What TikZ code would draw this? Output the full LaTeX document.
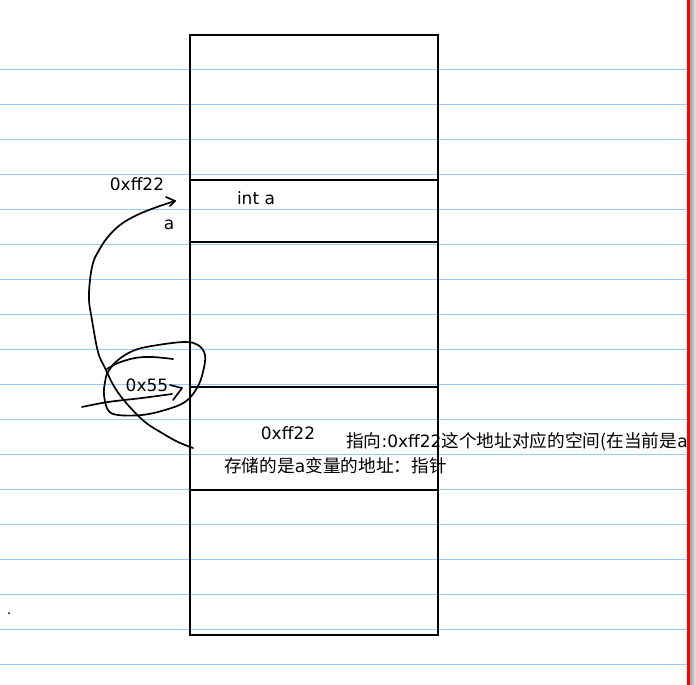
\documentclass[tikz,border=0pt]{standalone}
\usepackage{fontspec}
\setmainfont{DejaVu Sans}
\newfontfamily\cjk{Noto Sans CJK SC}[Scale=1.04]
\definecolor{ruleblue}{RGB}{155,202,248}
\begin{document}
\begin{tikzpicture}[x=1pt,y=-1pt,
  box/.style={draw=black,line width=1.6pt,inner sep=0pt,minimum width=248pt},
  lbl/.style={inner sep=0pt,font=\fontsize{17pt}{20pt}\selectfont},
  note/.style={lbl,anchor=west},
  hand/.style={line width=1.7pt,line cap=round,line join=round},
  paperrule/.style={draw=ruleblue,line width=1pt}]
\useasboundingbox (0,0) rectangle (696,685);
\fill[white] (0,0) rectangle (696,685);
% paper rules
\foreach \k in {0,...,17} \draw[paperrule] (0,69.5+35*\k) -- (687,69.5+35*\k);
% memory column
\node[box,minimum height=600pt] (mem) at (314,335) {};
\node[box,minimum height=62pt] (cella) at (314,211) {};
\node[box,minimum height=103pt] (cellp) at (314,438.5) {};
% labels
\node[lbl] (addrA) at (137,184) {0xff22};
\node[lbl] (inta) at (256,198) {int a};
\node[lbl] (namea) at (169,225) {a};
\node[lbl] (addrP) at (147,385) {0x55};
\node[lbl] (valP) at (288,433) {0xff22};
\node[note] (note1) at (346,442) {{\cjk 指向}:0xff22{\cjk 这个地址对应的空间(在当前是}a};
\node[note] (note2) at (224,466) {{\cjk 存储的是}a{\cjk 变量的地址：指针}};
% hand-drawn pointer arrow
\coordinate (ptrStart) at (193,448);
\coordinate (ptrEnd) at (175,201);
\draw[hand] plot[smooth,tension=0.6] coordinates {(ptrStart) (178,442) (162,433) (145,422) (128,405) (115,388) (105,368) (98,352) (92,320) (89,300) (90,280) (93,263) (98,252) (107,238) (120,225) (137,215) (157,207) (ptrEnd)};
\draw[hand] (166,197) -- (ptrEnd) -- (170,206);
% hand-drawn loop around 0x55
\draw[hand] plot[smooth cycle,tension=0.6] coordinates {(108,372) (118,360) (135,350) (158,345) (185,342) (198,345) (205,355) (203,372) (197,388) (185,402) (165,410) (142,415) (118,415) (108,410) (104,395) (105,382)};
\draw[hand] plot[smooth,tension=0.6] coordinates {(173,359) (152,357) (135,358) (118,363) (107,369)};
\draw[hand] plot[smooth,tension=0.6] coordinates {(82,407) (108,402) (142,398) (172,394)};
\draw[hand] (170,385) -- (182,388) -- (173,400);
% stray dot
\fill (9,613) circle (1pt);
% margin
\draw[red,line width=3pt] (688.5,0) -- (688.5,685);
\shade[left color=gray!75,right color=gray!15] (690,0) rectangle (696,685);
\end{tikzpicture}
\end{document}
